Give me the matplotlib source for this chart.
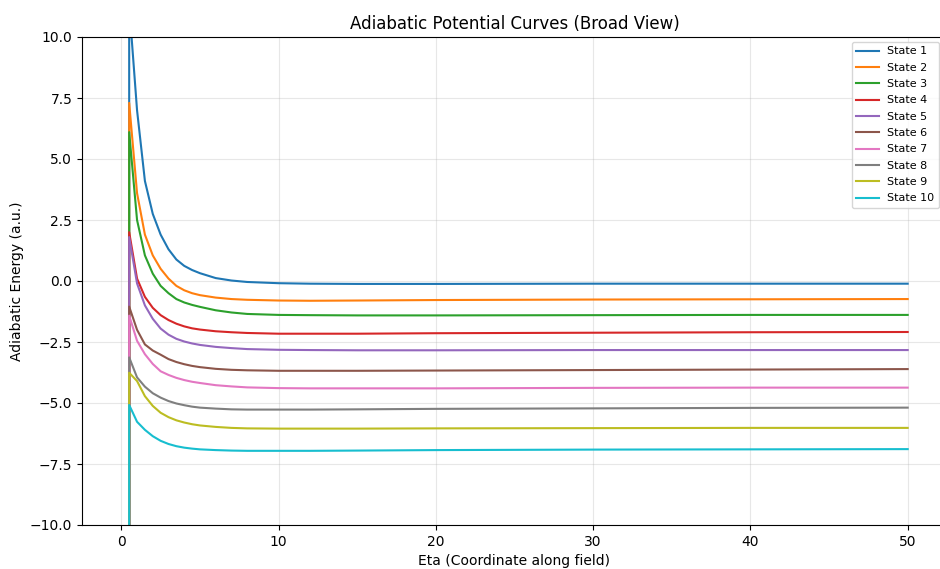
import numpy as np
import matplotlib
matplotlib.use("Agg")
from matplotlib import pyplot as plt

# Eta grid; the first entry is the singular start point of every curve
eta = [0.5, 0.5, 1.0, 1.5, 2.0, 2.5, 3.0, 3.5, 4.0, 4.5, 5.0, 6.0, 7.0, 8.0,
       10.0, 12.0, 15.0, 20.0, 30.0, 40.0, 50.0]

# Adiabatic energies (a.u.) of the ten lowest states along eta
state_1 = [-30.0, 11.3, 7.0, 4.1, 2.75, 1.9, 1.3, 0.88, 0.62, 0.45, 0.32, 0.12, 0.02, -0.04,
           -0.09, -0.11, -0.12, -0.12, -0.11, -0.11, -0.11]
state_2 = [-30.0, 7.3, 3.6, 1.9, 1.05, 0.5, 0.1, -0.2, -0.38, -0.5, -0.58, -0.68, -0.74, -0.77,
           -0.8, -0.81, -0.8, -0.78, -0.76, -0.75, -0.74]
state_3 = [-30.0, 6.1, 2.5, 1.05, 0.3, -0.2, -0.5, -0.74, -0.88, -0.98, -1.06, -1.2, -1.29, -1.35,
           -1.39, -1.4, -1.41, -1.41, -1.4, -1.39, -1.39]
state_4 = [-30.0, 2.0, 0.1, -0.65, -1.1, -1.4, -1.6, -1.75, -1.86, -1.94, -1.99, -2.06, -2.1, -2.13,
           -2.16, -2.16, -2.16, -2.14, -2.12, -2.1, -2.09]
state_5 = [-30.0, 1.8, -0.1, -1.0, -1.55, -1.95, -2.2, -2.37, -2.48, -2.56, -2.62, -2.7, -2.75, -2.79,
           -2.82, -2.83, -2.84, -2.84, -2.83, -2.83, -2.83]
state_6 = [-30.0, -1.05, -2.0, -2.6, -2.85, -3.02, -3.2, -3.32, -3.41, -3.48, -3.53, -3.6, -3.64, -3.66,
           -3.68, -3.68, -3.68, -3.67, -3.65, -3.63, -3.61]
state_7 = [-30.0, -1.42, -2.45, -3.0, -3.4, -3.7, -3.85, -3.97, -4.06, -4.13, -4.18, -4.27, -4.32, -4.36,
           -4.39, -4.4, -4.4, -4.4, -4.38, -4.37, -4.37]
state_8 = [-30.0, -3.13, -3.95, -4.33, -4.6, -4.78, -4.92, -5.02, -5.09, -5.15, -5.19, -5.23, -5.26, -5.27,
           -5.27, -5.27, -5.26, -5.24, -5.22, -5.2, -5.19]
state_9 = [-30.0, -3.76, -4.1, -4.72, -5.12, -5.4, -5.58, -5.71, -5.8, -5.87, -5.92, -5.98, -6.02, -6.04,
           -6.05, -6.05, -6.05, -6.04, -6.03, -6.02, -6.02]
state_10 = [-30.0, -5.08, -5.77, -6.1, -6.36, -6.55, -6.68, -6.77, -6.83, -6.87, -6.9, -6.93, -6.95, -6.96,
            -6.96, -6.96, -6.95, -6.93, -6.91, -6.9, -6.89]

states = [state_1, state_2, state_3, state_4, state_5,
          state_6, state_7, state_8, state_9, state_10]
labels = ["State " + str(i + 1) for i in range(len(states))]

fig = plt.figure(figsize=(9.4, 5.69), dpi=100)
# axes run a little past the right edge of the canvas
ax = fig.add_axes([82 / 940, 1 - 525 / 569, (947 - 82) / 940, (525 - 37) / 569])

for vals, lab in zip(states, labels):
    ax.plot(eta, vals, label=lab, linewidth=1.5)

ax.set_xlim(-2.5, 52.5)
ax.set_ylim(-10, 10)
ax.set_yticks(np.arange(-10, 10.1, 2.5))
ax.set_xticks([0, 10, 20, 30, 40, 50])
ax.grid(True, alpha=0.3)
ax.spines["right"].set_visible(False)

ax.set_title("Adiabatic Potential Curves (Broad View)", fontsize=12)
ax.set_xlabel("Eta (Coordinate along field)")
ax.set_ylabel("Adiabatic Energy (a.u.)")

ax.legend(loc="upper right", bbox_to_anchor=(939 / 940, 1 - 42 / 569),
          bbox_transform=fig.transFigure, borderaxespad=0, fontsize=8,
          labelspacing=0.57)

fig.savefig("out.png", dpi=100)
